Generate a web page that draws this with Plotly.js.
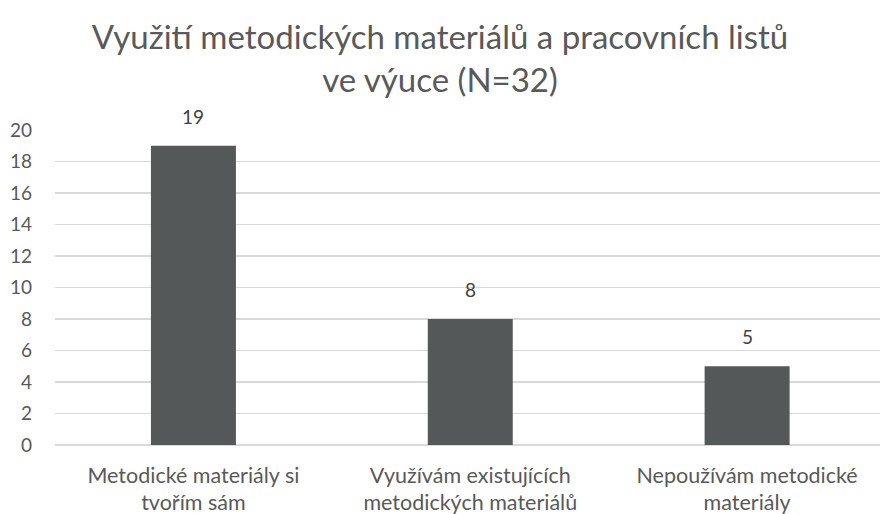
<!DOCTYPE html>
<html><head><meta charset="utf-8">
<script src="https://cdn.plot.ly/plotly-3.0.1.min.js"></script>
<style>body{margin:0;background:#fff}#chart{width:880px;height:514px}</style>
</head><body><div id="chart"></div>
<script>
const categories = ["Metodické materiály si<br>tvořím sám", "Využívám existujících<br>metodických materiálů", "Nepoužívám metodické<br>materiály"];
const values = [19, 8, 5];
const yTicks = [0, 2, 4, 6, 8, 10, 12, 14, 16, 18, 20];

const FONT = "Lato, sans-serif";
const TXT = "#595959";

const annotations = categories.map((c, i) => ({
  x: c, y: values[i], xref: "x", yref: "y", text: String(values[i]),
  showarrow: false, yanchor: "bottom", yshift: 16,
  font: {family: FONT, size: 19, color: "#404040"}
}));

Plotly.newPlot("chart", [{
  type: "bar", x: categories, y: values,
  marker: {color: "#555859"}, hoverinfo: "none", width: 0.307
}], {
  width: 880, height: 514,
  margin: {l: 55, r: 0, t: 130, b: 69},
  paper_bgcolor: "#fff", plot_bgcolor: "#fff",
  title: {text: "Využití metodických materiálů a pracovních listů<br>ve výuce (N=32)",
    font: {family: FONT, size: 33, color: TXT}, x: 0.5, xanchor: "center", yref: "container", y: 0.905, yanchor: "bottom"},
  xaxis: {tickfont: {family: FONT, size: 21.5, color: TXT}, showline: false, ticks: "", fixedrange: true,
    ticklabelstandoff: 15, range: [-0.5, 2.48]},
  yaxis: {range: [0, 20], tickvals: yTicks, ticktext: yTicks.map(String),
    tickfont: {family: FONT, size: 19, color: TXT}, gridcolor: "#d9d9d9", gridwidth: 1.5,
    zeroline: true, zerolinecolor: "#d9d9d9", zerolinewidth: 1.5, showline: false, ticks: "", ticklabelstandoff: 22},
  annotations: annotations,
  showlegend: false
}, {displayModeBar: false, staticPlot: true});
</script></body></html>
